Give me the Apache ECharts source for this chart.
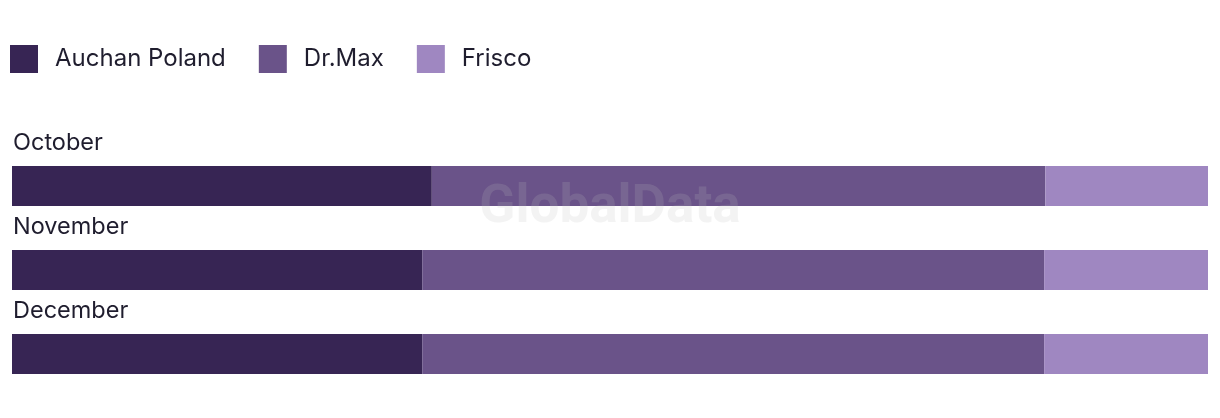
<!DOCTYPE html>
<html>
<head>
<meta charset="utf-8">
<script src="https://cdn.jsdelivr.net/npm/echarts@6/dist/echarts.min.js"></script>
<style>html,body{margin:0;padding:0;background:#fff;}#c{width:1220px;height:418px;}</style>
</head>
<body>
<div id="c"></div>
<script>
const categories = ['October', 'November', 'December'];
const seriesNames = ['Auchan Poland', 'Dr.Max', 'Frisco'];
const auchan = [35.1, 34.3, 34.3];
const drmax = [51.3, 52.0, 52.0];
const frisco = [13.6, 13.7, 13.7];
const colors = ['#372554', '#6a5389', '#9f87c1'];

const chart = echarts.init(document.getElementById('c'));
const font = 'Inter, Roboto, sans-serif';
const dataSets = [auchan, drmax, frisco];
chart.setOption({
  animation: false,
  color: colors,
  legend: {
    left: 10, top: 45, padding: 0,
    itemWidth: 28, itemHeight: 28, itemGap: 33,
    icon: 'rect',
    textStyle: { fontFamily: font, fontSize: 24, color: '#1f1d2e', padding: [0, 0, 0, 12] },
    data: seriesNames
  },
  grid: { left: 12, right: 12, top: 144, bottom: 22, containLabel: false },
  xAxis: { type: 'value', min: 0, max: 100, show: false },
  yAxis: {
    type: 'category', data: categories, inverse: true,
    axisLine: { show: false }, axisTick: { show: false }, axisLabel: { show: false }
  },
  graphic: [{
    type: 'text', left: 'center', top: 182, z: 100, silent: true,
    style: { text: 'GlobalData', fontFamily: 'Roboto, sans-serif', fontWeight: 'bold', fontSize: 53, fill: 'rgba(190,190,190,0.18)' }
  }],
  series: seriesNames.map((n, i) => ({
    name: n, type: 'bar', stack: 'total', barWidth: 40,
    data: dataSets[i], itemStyle: { color: colors[i] },
    label: i === 0 ? {
      show: true, formatter: '{b}', position: [1, -35], verticalAlign: 'top', align: 'left',
      fontFamily: font, fontSize: 23.5, color: '#1f1d2e'
    } : { show: false }
  }))
});
</script>
</body>
</html>
